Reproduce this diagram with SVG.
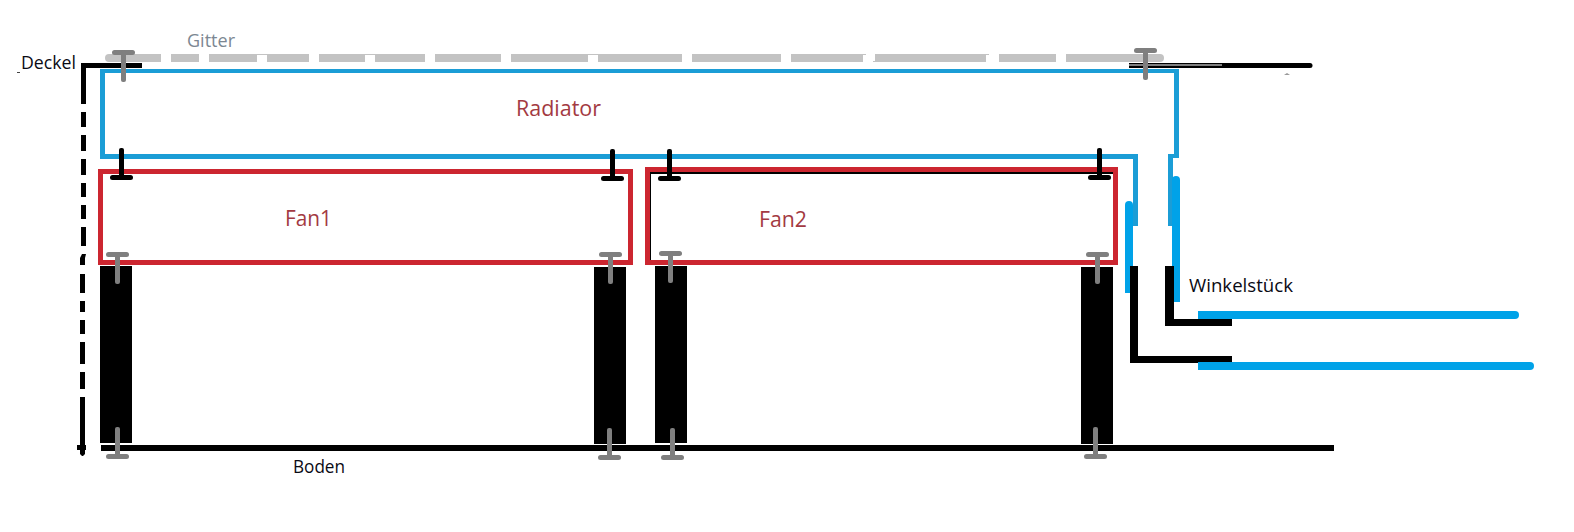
<svg xmlns="http://www.w3.org/2000/svg" width="1574" height="532" viewBox="0 0 1574 532">
<defs>
<style>
text{font-family:"Open Sans","Noto Sans","Liberation Sans",sans-serif;font-size:19px}
.k{fill:#000}.g{fill:#c3c3c3}.sg{fill:#7f7f7f}.b{fill:#1b9dd6}.p{fill:#00a2e8}.r{fill:#cc2630}
.lr{fill:#a33a42;font-size:21px}.lk{fill:#0a0a14}.lg{fill:#7c8792}
</style>
<g id="screw-gray-down"><rect class="sg" x="-11.5" y="0" width="23" height="5" rx="2.5"/><rect class="sg" x="-2.5" y="0" width="5" height="32" rx="2"/></g>
<g id="screw-gray-up"><rect class="sg" x="-2.5" y="-27" width="5" height="30" rx="2"/><rect class="sg" x="-11.5" y="0" width="23" height="5" rx="2.5"/></g>
<g id="screw-black"><rect class="k" x="-2.5" y="-27" width="5" height="30" rx="2"/><rect class="k" x="-11.5" y="0" width="23" height="5" rx="2.5"/></g>
</defs>
<rect width="1574" height="532" fill="#fff"/>
<g id="gitter">
<path class="g" d="M109 54H161V62H109A4 4 0 0 1 109 54Z"/>
<rect class="g" x="171" y="54" width="28" height="8"/><rect class="g" x="209" y="54" width="48" height="8"/>
<rect class="g" x="257" y="54" width="10" height="1"/><rect class="g" x="267" y="54" width="42" height="8"/>
<rect class="g" x="319" y="54" width="46" height="8"/><rect class="g" x="365" y="54" width="10" height="1"/>
<rect class="g" x="375" y="54" width="50" height="8"/><rect class="g" x="435" y="54" width="66" height="8"/>
<rect class="g" x="511" y="54" width="77" height="8"/><rect class="g" x="588" y="54" width="10" height="1"/>
<rect class="g" x="598" y="54" width="84" height="8"/><rect class="g" x="692" y="54" width="89" height="8"/>
<path class="g" d="M791 54H866V55H863V62H791Z"/><path class="g" d="M875 54H989V55H986V62H873V61H875Z"/>
<rect class="g" x="999" y="54" width="57" height="8"/>
<path class="g" d="M1066 54H1160A4 4 0 0 1 1160 62H1066Z"/>
</g>
<g id="deckel">
<rect class="k" x="82" y="63" width="60" height="5"/>
<rect class="k" x="1129" y="63" width="181" height="5"/><circle class="k" cx="1310" cy="65.500" r="2.500"/>
<rect x="1129" y="64.500" width="93" height="1" fill="#fff"/>
<path d="M81 63h5v41h-5zM81 112h5v15h-5zM81 135h5v16h-5zM81 159h5v16h-5zM81 183h5v14h-5zM81 205h5v14h-5zM81 227h5v19h-5zM82 254h4l-1 4v7h-5v-7zM80 274h5v19h-5zM80 301h5v11h-5zM80 320h5v14h-5zM80 342h5v22h-5zM80 372h5v17h-5zM80 397h5v48h1v5h-1v4l-2 2h-1l-2-2v-4h-3v-5h3z" class="k"/>
<path d="M1284 75l3-2 3 2z" fill="#999"/>
<rect x="17" y="72" width="3" height="1" fill="#444"/>
</g>
<g id="boden"><rect class="k" x="101" y="445" width="1233" height="6"/></g>
<g id="radiator">
<path class="b" d="M100 69H1179V158H1173V226H1168V154H1174V73H105V154H1138V226H1133V159H100Z"/>
<text class="lr" x="516" y="116" textLength="85" lengthAdjust="spacingAndGlyphs">Radiator</text>
</g>
<g id="fan1">
<path class="r" fill-rule="evenodd" d="M98 169H633V265H98ZM103 174V260H628V174Z"/>
<text class="lr" x="285" y="226" textLength="47" lengthAdjust="spacingAndGlyphs">Fan1</text>
</g>
<g id="fan2">
<path class="k" d="M650 172H1113V174H651V260H650Z"/>
<path class="r" fill-rule="evenodd" d="M645 167H1118V265H645ZM650 172V260H1113V172Z"/>
<text class="lr" x="759" y="227" textLength="48" lengthAdjust="spacingAndGlyphs">Fan2</text>
</g>
<g id="standoffs">
<rect class="k" x="100" y="266" width="32" height="177"/>
<rect class="k" x="594" y="267" width="32" height="177"/>
<rect class="k" x="655" y="266" width="32" height="177"/>
<rect class="k" x="1081" y="267" width="32" height="177"/>
</g>
<g id="connectors">
<path class="p" d="M1172 180a4 4 0 0 1 8 0V302H1172Z"/>
<path class="p" d="M1125 205a4 4 0 0 1 8 0V293H1125Z"/>
<rect class="b" x="1168" y="176" width="4" height="50"/>
<rect class="b" x="1133" y="201" width="5" height="25"/>
<path class="k" d="M1165 266H1174V319H1232V326H1165Z"/>
<path class="k" d="M1130 266H1138V356H1232V363H1130Z"/>
<path class="p" d="M1198 311H1515A4 4 0 0 1 1515 319H1198Z"/>
<path class="p" d="M1198 362H1530A4 4 0 0 1 1530 370H1198Z"/>
<use href="#screw-gray-down" x="123.500" y="50"/>
<use href="#screw-gray-down" x="1145.500" y="48"/>
<use href="#screw-black" x="121.500" y="175"/>
<use href="#screw-black" x="612.500" y="176"/>
<use href="#screw-black" x="669.500" y="176"/>
<use href="#screw-black" x="1099.500" y="175"/>
<use href="#screw-gray-down" x="117.500" y="252"/>
<use href="#screw-gray-down" x="610.500" y="252"/>
<use href="#screw-gray-down" x="670.500" y="251"/>
<use href="#screw-gray-down" x="1097.500" y="252"/>
<use href="#screw-gray-up" x="117.500" y="454"/>
<use href="#screw-gray-up" x="609.500" y="455"/>
<use href="#screw-gray-up" x="672.500" y="455"/>
<use href="#screw-gray-up" x="1095.500" y="454"/>
</g>
<g id="labels">
<text class="lg" x="187" y="47" textLength="48" lengthAdjust="spacingAndGlyphs">Gitter</text>
<text class="lk" x="21" y="69" textLength="55" lengthAdjust="spacingAndGlyphs">Deckel</text>
<text class="lk" x="293" y="473" textLength="52" lengthAdjust="spacingAndGlyphs">Boden</text>
<text class="lk" x="1189" y="292" textLength="104" lengthAdjust="spacingAndGlyphs">Winkelstück</text>
</g>
</svg>
